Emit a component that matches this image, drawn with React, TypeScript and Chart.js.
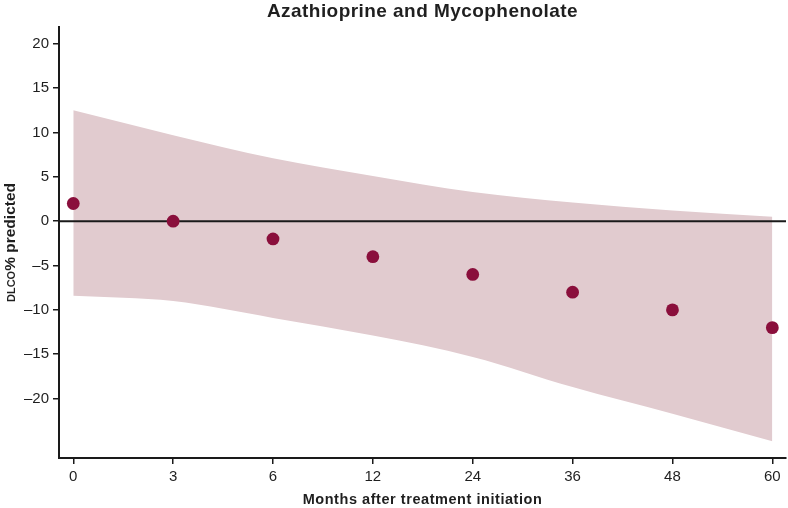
import React, { useEffect, useRef } from "react";
import { Chart, registerables } from "chart.js";

Chart.register(...registerables);

const months = ["0", "3", "6", "12", "24", "36", "48", "60"];
const estimate = [2, 0, -2, -4, -6, -8, -10, -12];
const upperCI = [12.5, 9.7, 7.1, 5.1, 3.3, 2.1, 1.2, 0.5];
const lowerCI = [-8.4, -9.0, -10.9, -12.9, -15.3, -18.7, -21.7, -24.8];
const yTicks = [-20, -15, -10, -5, 0, 5, 10, 15, 20];

const TITLE = "Azathioprine and Mycophenolate";
const X_TITLE = "Months after treatment initiation";
const Y_TITLE_SC = "DLCO";
const Y_TITLE_REST = "% predicted";

const FONT = "'Liberation Sans', Arial, Helvetica, sans-serif";
const TEXT = "#1f1f1f";
const AXIS = "#1a1a1a";
const POINT = "#8a0f3c";
const BAND = "#e1cbcf";

const toXY = (arr: number[]) => arr.map((v, i) => ({ x: i, y: v }));

const decorPlugin = {
  id: "decor",
  beforeDatasetDraw(chart: any, args: any) {
    if (args.index !== 0) return;
    const { ctx, chartArea, scales } = chart;
    const y = scales.y.getPixelForValue(0);
    ctx.save();
    ctx.strokeStyle = AXIS;
    ctx.lineWidth = 2;
    ctx.beginPath();
    ctx.moveTo(chartArea.left, y);
    ctx.lineTo(chartArea.right, y);
    ctx.stroke();
    ctx.restore();
  },
  afterDraw(chart: any) {
    const { ctx, chartArea } = chart;
    const cx = (chartArea.left + chartArea.right) / 2;
    const cy = (chartArea.top + chartArea.bottom) / 2;
    ctx.save();
    ctx.fillStyle = TEXT;
    ctx.textBaseline = "alphabetic";
    ctx.textAlign = "center";
    ctx.font = `bold 19px ${FONT}`;
    (ctx as any).letterSpacing = "0.45px";
    ctx.fillText(TITLE, cx, 17);
    ctx.font = `bold 14.5px ${FONT}`;
    (ctx as any).letterSpacing = "0.55px";
    ctx.fillText(X_TITLE, cx, 504);
    (ctx as any).letterSpacing = "0px";
    // y title with small caps
    ctx.translate(14.5, cy);
    ctx.rotate(-Math.PI / 2);
    ctx.textAlign = "left";
    ctx.font = `bold 11px ${FONT}`;
    const w1 = ctx.measureText(Y_TITLE_SC).width;
    ctx.font = `bold 15.5px ${FONT}`;
    const w2 = ctx.measureText(Y_TITLE_REST).width;
    const start = -(w1 + w2) / 2;
    ctx.font = `bold 11px ${FONT}`;
    ctx.fillText(Y_TITLE_SC, start, 0);
    ctx.font = `bold 15.5px ${FONT}`;
    ctx.fillText(Y_TITLE_REST, start + w1, 0);
    ctx.restore();
  },
};

export default function App() {
  const ref = useRef<HTMLCanvasElement | null>(null);

  useEffect(() => {
    document.body.style.margin = "0";
    const canvas = ref.current;
    if (!canvas) return;
    Chart.defaults.font.family = FONT;
    const chart = new Chart(canvas, {
      type: "scatter",
      data: {
        datasets: [
          {
            label: "Estimate",
            data: toXY(estimate),
            backgroundColor: POINT,
            borderWidth: 0,
            pointRadius: 6.4,
            order: 0,
          } as any,
          {
            label: "Upper",
            data: toXY(upperCI),
            showLine: true,
            borderWidth: 0,
            borderColor: "rgba(0,0,0,0)",
            pointRadius: 0,
            tension: 0.4,
            cubicInterpolationMode: "monotone",
            fill: false,
            order: 2,
          } as any,
          {
            label: "Lower",
            data: toXY(lowerCI),
            showLine: true,
            borderWidth: 0,
            borderColor: "rgba(0,0,0,0)",
            backgroundColor: BAND,
            pointRadius: 0,
            tension: 0.4,
            cubicInterpolationMode: "monotone",
            fill: 1,
            order: 1,
          } as any,
        ],
      },
      options: {
        animation: false,
        responsive: false,
        devicePixelRatio: 1,
        layout: { autoPadding: false, padding: { top: 27, right: 2, left: 0, bottom: 0 } },
        plugins: {
          legend: { display: false },
          tooltip: { enabled: false },
          title: { display: false },
        },
        scales: {
          x: {
            type: "linear",
            min: -0.143,
            max: 7.137,
            border: { display: true, color: AXIS, width: 2 },
            grid: {
              drawOnChartArea: false,
              drawTicks: true,
              tickLength: 6,
              color: AXIS,
              lineWidth: 1.5,
            },
            ticks: {
              padding: 4,
              color: TEXT,
              font: { size: 15, family: FONT },
              callback: (v: any) => months[v] ?? "",
            },
            afterBuildTicks: (s: any) => {
              s.ticks = months.map((_, i) => ({ value: i }));
            },
            afterFit: (s: any) => {
              s.height = 50;
              s.paddingLeft = 0;
              s.paddingRight = 0;
            },
          },
          y: {
            type: "linear",
            min: -26.7,
            max: 21.9,
            border: { display: true, color: AXIS, width: 2 },
            grid: {
              drawOnChartArea: false,
              drawTicks: true,
              tickLength: 6,
              color: AXIS,
              lineWidth: 1.5,
            },
            ticks: {
              padding: 4,
              color: TEXT,
              font: { size: 15, family: FONT },
              callback: (v: any) => (v < 0 ? "\u2013" + Math.abs(v) : String(v)),
            },
            afterBuildTicks: (s: any) => {
              s.ticks = yTicks.map((v) => ({ value: v }));
            },
            afterFit: (s: any) => {
              s.width = 59;
              s.paddingTop = 0;
              s.paddingBottom = 0;
            },
          },
        },
      } as any,
      plugins: [decorPlugin],
    });
    return () => chart.destroy();
  }, []);

  return (
    <div style={{ width: 788, height: 508 }}>
      <canvas ref={ref} width={788} height={508} style={{ display: "block" }} />
    </div>
  );
}
